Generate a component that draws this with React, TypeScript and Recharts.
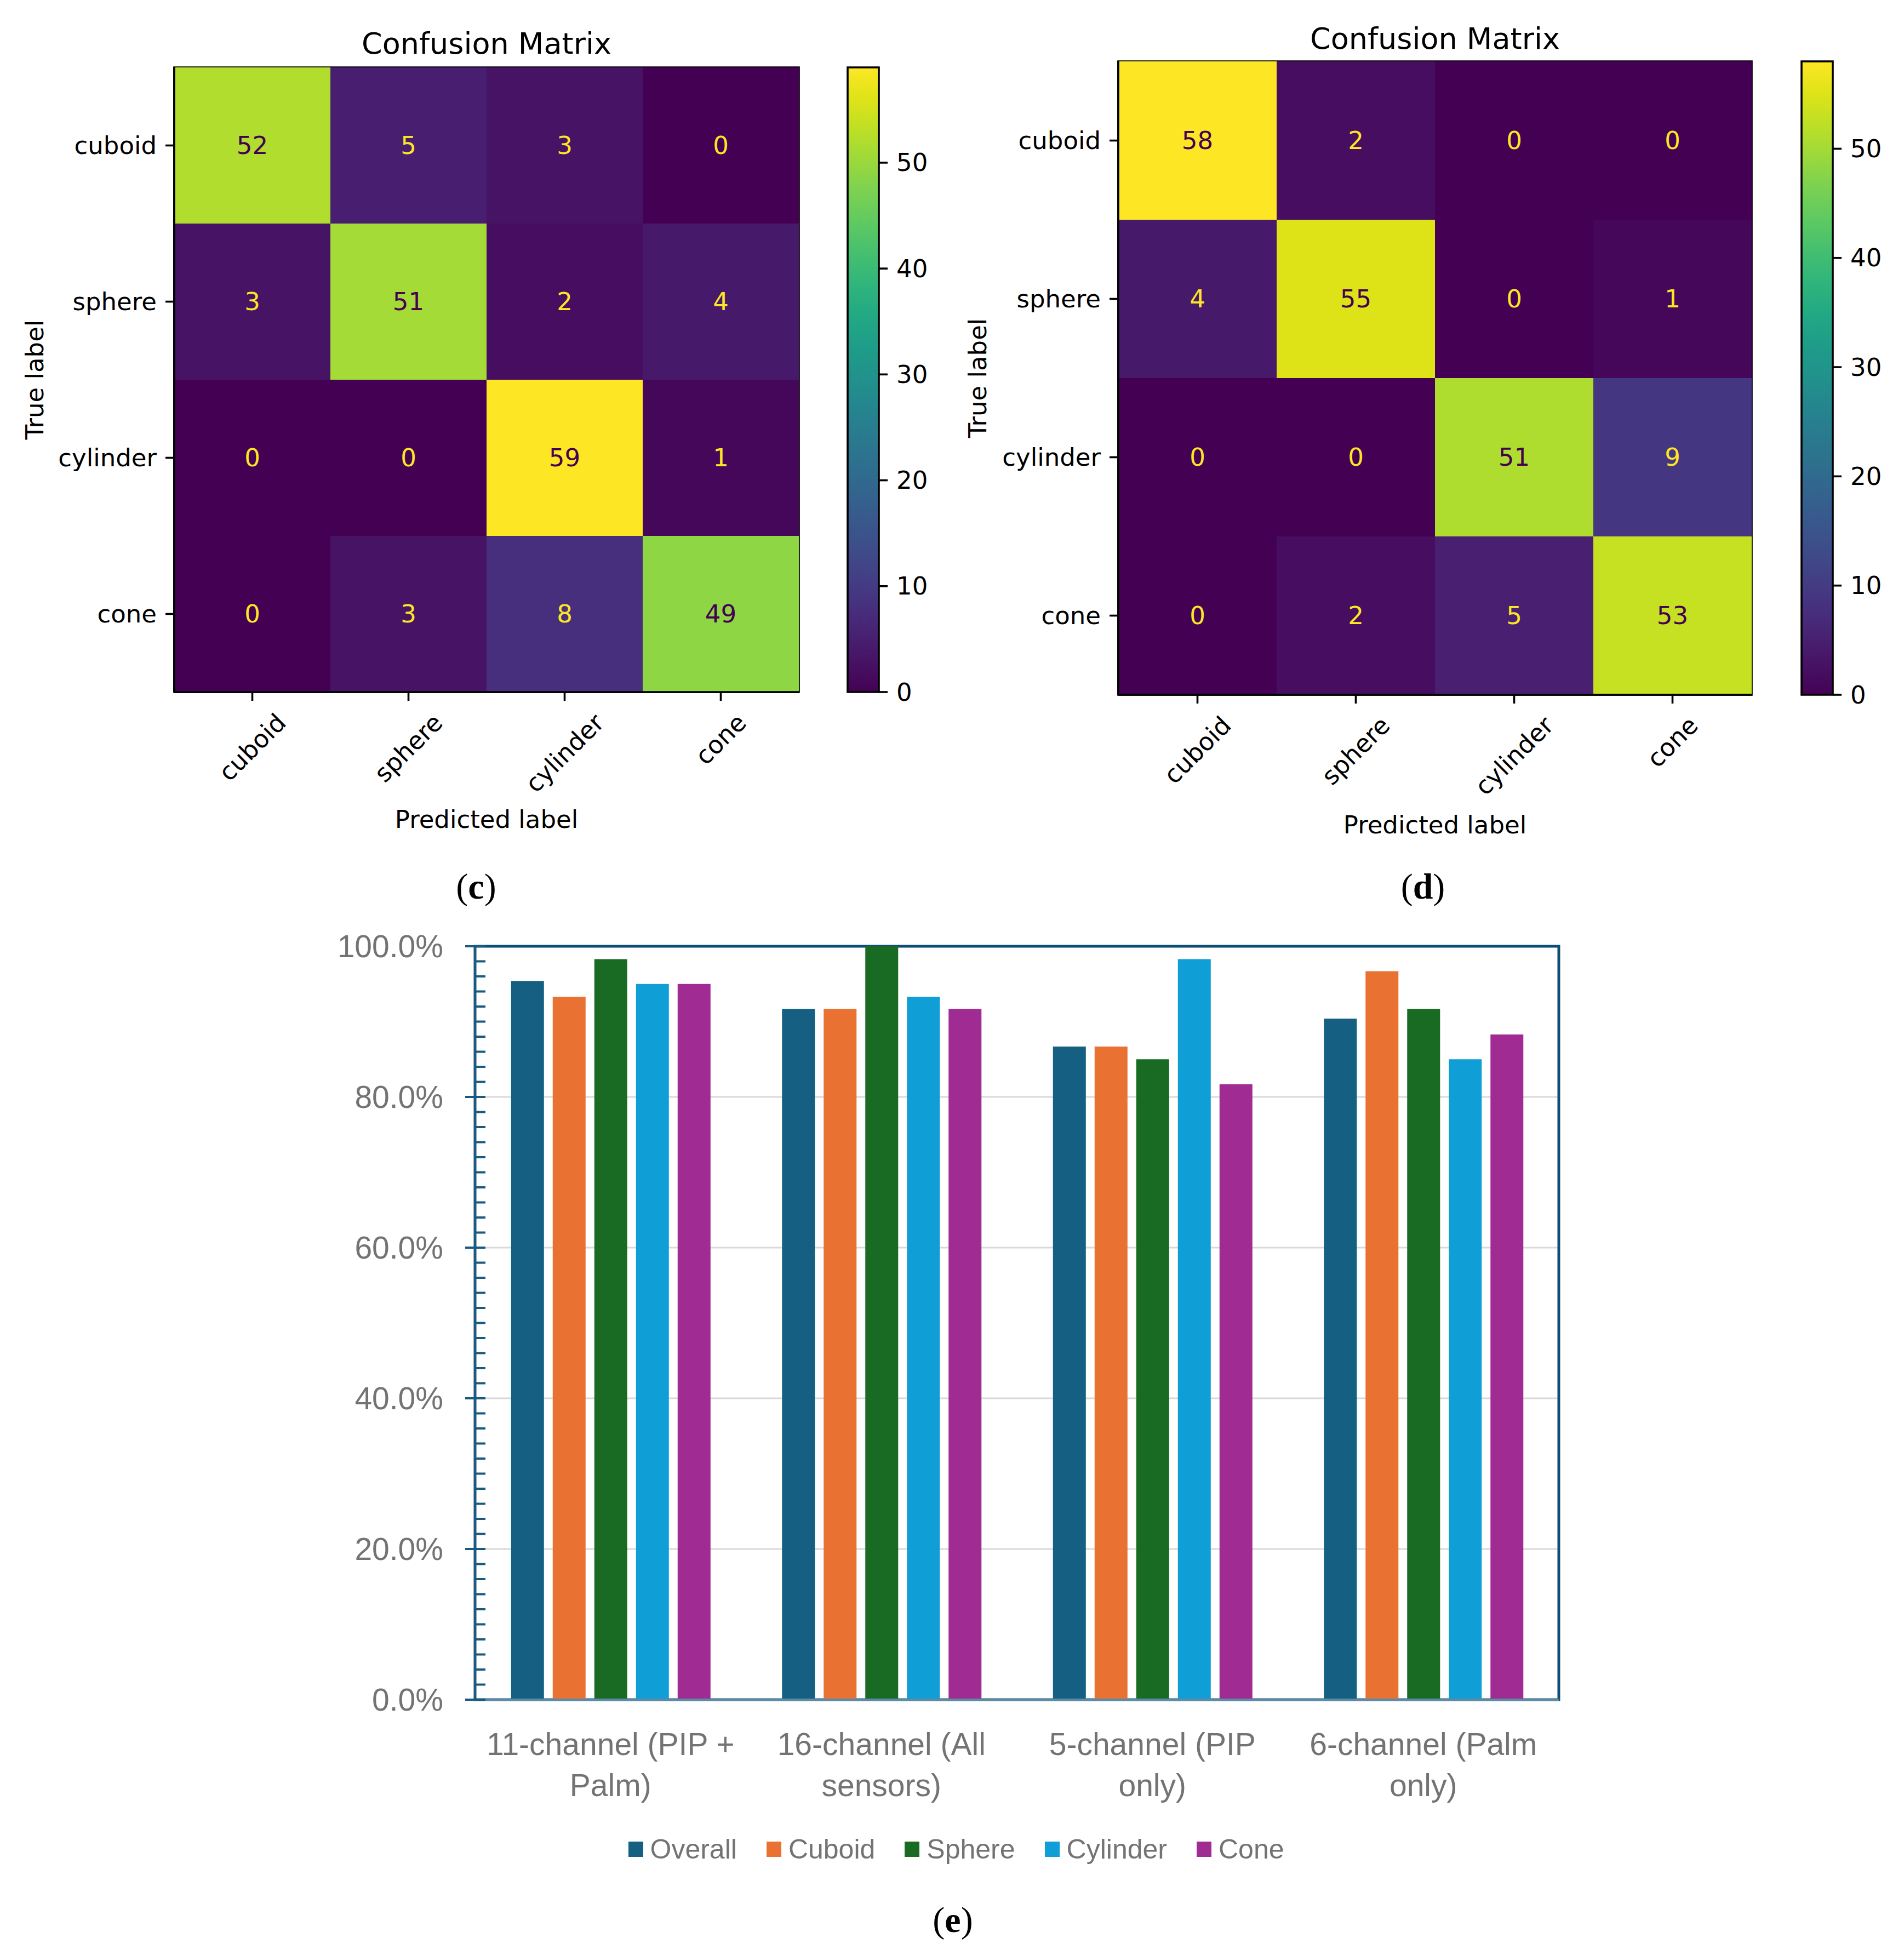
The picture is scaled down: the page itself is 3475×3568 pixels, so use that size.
import React from 'react';
import { BarChart, Bar, XAxis, YAxis, Cell, LabelList, CartesianGrid, Legend, ReferenceArea, ReferenceLine } from 'recharts';

// ---------- confusion matrices (rows = true label, columns = predicted label) ----------
const classLabels = ['cuboid', 'sphere', 'cylinder', 'cone'];
const matrixC = [
  [52, 5, 3, 0],
  [3, 51, 2, 4],
  [0, 0, 59, 1],
  [0, 3, 8, 49],
];
const matrixD = [
  [58, 2, 0, 0],
  [4, 55, 0, 1],
  [0, 0, 51, 9],
  [0, 2, 5, 53],
];
const colorbarTicks = [0, 10, 20, 30, 40, 50];

// ---------- per-configuration accuracy (%) ----------
const configLabels = [
  '11-channel (PIP + Palm)',
  '16-channel (All sensors)',
  '5-channel (PIP only)',
  '6-channel (Palm only)',
];
const configTickLines = [
  ['11-channel (PIP +', 'Palm)'],
  ['16-channel (All', 'sensors)'],
  ['5-channel (PIP', 'only)'],
  ['6-channel (Palm', 'only)'],
];
const overallAcc = [95.4, 91.7, 86.7, 90.4];
const cuboidAcc = [93.3, 91.7, 86.7, 96.7];
const sphereAcc = [98.3, 100.0, 85.0, 91.7];
const cylinderAcc = [95.0, 93.3, 98.3, 85.0];
const coneAcc = [95.0, 91.7, 81.7, 88.3];
const percentTicks = [0, 20, 40, 60, 80, 100];
const percentMinorStep = 2;

const accSeries = [
  { key: 'overall', name: 'Overall', color: '#156082', values: overallAcc },
  { key: 'cuboid', name: 'Cuboid', color: '#e97132', values: cuboidAcc },
  { key: 'sphere', name: 'Sphere', color: '#196b24', values: sphereAcc },
  { key: 'cylinder', name: 'Cylinder', color: '#0f9ed5', values: cylinderAcc },
  { key: 'cone', name: 'Cone', color: '#a02b93', values: coneAcc },
];

// ---------- styling ----------
const MPL_FONT = '"DejaVu Sans", sans-serif';
const MPL_FS = 45;
const MPL_LW = 3.6;
const OFFICE_FONT = '"Liberation Sans", Arial, sans-serif';
const OFFICE_GRAY = '#737373';
const AXIS_BLUE = '#1b5a80';
const BORDER_BLUE = '#0f4e74';
const BASE_LINE = '#5d8aa5';

// viridis colormap sampled every 0.05
const VIRIDIS = [
  '#440154', '#471365', '#482475', '#463480', '#414487', '#3b528b', '#355f8d',
  '#2f6c8e', '#2a788e', '#25848e', '#21918c', '#1e9c89', '#22a884', '#2fb47c',
  '#44bf70', '#5ec962', '#7ad151', '#9bd93c', '#bddf26', '#dfe318', '#fde725',
];

function hexRgb(h: string): number[] {
  return [parseInt(h.slice(1, 3), 16), parseInt(h.slice(3, 5), 16), parseInt(h.slice(5, 7), 16)];
}

function viridis(t: number): string {
  const c = Math.max(0, Math.min(1, t));
  const p = c * (VIRIDIS.length - 1);
  const i = Math.min(Math.floor(p), VIRIDIS.length - 2);
  const f = p - i;
  const a = hexRgb(VIRIDIS[i]);
  const b = hexRgb(VIRIDIS[i + 1]);
  const m = a.map((v, k) => Math.round(v + (b[k] - v) * f));
  return `rgb(${m[0]},${m[1]},${m[2]})`;
}

let measureCtx: CanvasRenderingContext2D | null = null;
function textWidth(s: string, font: string): number {
  if (!measureCtx) measureCtx = document.createElement('canvas').getContext('2d');
  if (!measureCtx) return s.length * 0.6 * MPL_FS;
  measureCtx.font = font;
  return measureCtx.measureText(s).width;
}

// ---------- confusion-matrix ticks & labels ----------
const renderRotatedTick = (p: any) => {
  const label = String(p.payload.value);
  const w = textWidth(label, `${MPL_FS}px ${MPL_FONT}`);
  const cy = p.y + ((w + MPL_FS) * Math.SQRT1_2) / 2;
  return (
    <text
      x={p.x}
      y={cy}
      textAnchor="middle"
      dominantBaseline="central"
      transform={`rotate(-45 ${p.x} ${cy})`}
      fontSize={MPL_FS}
      fontFamily={MPL_FONT}
      fill="#000"
    >
      {label}
    </text>
  );
};

const renderRowTick = (p: any) => (
  <text x={p.x} y={p.y} textAnchor="end" dominantBaseline="central" fontSize={MPL_FS} fontFamily={MPL_FONT} fill="#000">
    {classLabels[classLabels.length - 1 - Math.floor(p.payload.value)]}
  </text>
);

const renderCbTick = (p: any) => (
  <text x={p.x} y={p.y} textAnchor="start" dominantBaseline="central" fontSize={MPL_FS} fontFamily={MPL_FONT} fill="#000">
    {p.payload.value}
  </text>
);

function renderCount(p: any, thresh: number) {
  const vb = p.viewBox || p;
  const x = (vb.x ?? p.x) + (vb.width ?? p.width) / 2;
  const y = (vb.y ?? p.y) + (vb.height ?? p.height) / 2;
  const v = Number(p.value);
  return (
    <text
      x={x}
      y={y}
      textAnchor="middle"
      dominantBaseline="central"
      fontSize={MPL_FS}
      fontFamily={MPL_FONT}
      fill={v < thresh ? '#fde725' : '#440154'}
    >
      {v}
    </text>
  );
}

function ConfusionMatrix({ matrix, plotX, plotY, size }: { matrix: number[][]; plotX: number; plotY: number; size: number }) {
  const flat = matrix.flat();
  const vmax = Math.max(...flat);
  const vmin = Math.min(...flat);
  const thresh = (vmax + vmin) / 2;
  const n = classLabels.length;
  const data = classLabels.map((pred, j) => {
    const col: any = { pred };
    classLabels.forEach((_, i) => {
      col[`u${i}`] = 1;
      col[`n${i}`] = matrix[i][j];
    });
    return col;
  });
  const yAxisW = 300;
  const padT = 20;
  const padR = 20;
  const xAxisH = 200;
  const padB = 50;
  const rowOrder = classLabels.map((_, i) => n - 1 - i);
  const line = { stroke: '#000', strokeWidth: MPL_LW };
  return (
    <div style={{ position: 'absolute', left: plotX - yAxisW, top: plotY - padT }}>
      <BarChart
        width={yAxisW + size + padR}
        height={padT + size + xAxisH + padB}
        data={data}
        margin={{ top: padT, right: padR, bottom: padB, left: 0 }}
        barCategoryGap={0}
        barGap={0}
      >
        {rowOrder.map((i) => (
          <Bar key={i} dataKey={`u${i}`} stackId="cm" isAnimationActive={false}>
            {data.map((_, j) => (
              <Cell key={j} fill={viridis((matrix[i][j] - vmin) / (vmax - vmin))} />
            ))}
            <LabelList dataKey={`n${i}`} content={(p: any) => renderCount(p, thresh)} />
          </Bar>
        ))}
        <XAxis
          dataKey="pred"
          type="category"
          height={xAxisH}
          interval={0}
          tickSize={16}
          tickMargin={16}
          axisLine={line}
          tickLine={line}
          tick={renderRotatedTick}
        />
        <YAxis
          type="number"
          domain={[0, n]}
          ticks={classLabels.map((_, k) => k + 0.5)}
          interval={0}
          allowDataOverflow
          width={yAxisW}
          tickSize={16}
          tickMargin={16}
          axisLine={line}
          tickLine={line}
          tick={renderRowTick}
        />
        {/* axes frame */}
        <ReferenceArea y1={0} y2={n} fill="none" stroke="#000" strokeWidth={MPL_LW} ifOverflow="visible" />
      </BarChart>
    </div>
  );
}

function Colorbar({ matrix, left, top, height, width, id }: { matrix: number[][]; left: number; top: number; height: number; width: number; id: string }) {
  const vmax = Math.max(...matrix.flat());
  const pad = 4;
  const axisW = 140;
  return (
    <div style={{ position: 'absolute', left: left - pad, top: top - pad }}>
      <BarChart
        width={pad + width + axisW}
        height={pad + height + 40}
        data={[{ k: 'scale', v: vmax }]}
        margin={{ top: pad, left: pad, right: 0, bottom: 40 }}
        barCategoryGap={0}
      >
        <defs>
          <linearGradient id={id} x1="0" y1="1" x2="0" y2="0">
            {VIRIDIS.map((c, k) => (
              <stop key={k} offset={k / (VIRIDIS.length - 1)} stopColor={c} />
            ))}
          </linearGradient>
        </defs>
        <Bar dataKey="v" fill={`url(#${id})`} stroke="#000" strokeWidth={MPL_LW} isAnimationActive={false} />
        <XAxis dataKey="k" hide />
        <YAxis
          orientation="right"
          type="number"
          domain={[0, vmax]}
          ticks={colorbarTicks}
          interval={0}
          width={axisW}
          tickSize={16}
          tickMargin={16}
          axisLine={false}
          tickLine={{ stroke: '#000', strokeWidth: MPL_LW }}
          tick={renderCbTick}
        />
      </BarChart>
    </div>
  );
}

// ---------- accuracy bar chart ----------
const PCT_MARGIN = 58;

const renderPctTick = (p: any) => {
  const v = Number(p.payload.value);
  const ax = p.x + PCT_MARGIN;
  const major = percentTicks.includes(v);
  return (
    <g>
      <line x1={major ? ax - 18 : ax} x2={ax + 19} y1={p.y} y2={p.y} stroke={AXIS_BLUE} strokeWidth={4} />
      {major && (
        <text x={p.x} y={p.y} textAnchor="end" dominantBaseline="central" fontSize={57} fontFamily={OFFICE_FONT} fill={OFFICE_GRAY}>
          {`${v.toFixed(1)}%`}
        </text>
      )}
    </g>
  );
};

const renderConfigTick = (p: any) => {
  const idx = configLabels.indexOf(p.payload.value);
  const lines = configTickLines[idx] || [String(p.payload.value)];
  return (
    <text x={p.x} y={p.y} textAnchor="middle" fontSize={57} fontFamily={OFFICE_FONT} fill={OFFICE_GRAY}>
      {lines.map((l, k) => (
        <tspan key={k} x={p.x} dy={k === 0 ? 101 : 75}>
          {l}
        </tspan>
      ))}
    </text>
  );
};

const renderAccLegend = (props: any) => {
  const order = accSeries.map((s) => s.name);
  const items = [...(props.payload || [])].sort(
    (a: any, b: any) => order.indexOf(String(a.value)) - order.indexOf(String(b.value)),
  );
  return (
    <div
      style={{
        display: 'flex',
        justifyContent: 'center',
        alignItems: 'center',
        height: 40,
        fontFamily: OFFICE_FONT,
        fontSize: 50,
        color: OFFICE_GRAY,
      }}
    >
      {items.map((it: any, i: number) => (
        <div key={i} style={{ display: 'flex', alignItems: 'center', marginRight: i < items.length - 1 ? 54 : 0 }}>
          <span style={{ display: 'inline-block', width: 27, height: 28, background: it.color, marginRight: 13 }} />
          <span style={{ lineHeight: '40px', whiteSpace: 'nowrap' }}>{it.value}</span>
        </div>
      ))}
    </div>
  );
};

function AccuracyChart() {
  const data = configLabels.map((name, i) => {
    const row: any = { name };
    accSeries.forEach((s) => {
      row[s.key] = s.values[i];
    });
    return row;
  });
  const axisTicks: number[] = [];
  for (let v = 0; v <= 100; v += percentMinorStep) axisTicks.push(v);
  return (
    <div style={{ position: 'absolute', left: 600, top: 1640 }}>
      <BarChart
        width={2400}
        height={1800}
        data={data}
        margin={{ top: 87, right: 155, bottom: 138, left: 67 }}
        barCategoryGap="13.3%"
        barGap={16}
      >
        <CartesianGrid vertical={false} horizontalValues={percentTicks} stroke="#d9d9d9" strokeWidth={3} />
        {accSeries.map((s) => (
          <Bar key={s.key} dataKey={s.key} name={s.name} fill={s.color} isAnimationActive={false} />
        ))}
        <XAxis
          dataKey="name"
          type="category"
          height={200}
          interval={0}
          tickSize={0}
          tickMargin={0}
          tickLine={false}
          axisLine={{ stroke: BASE_LINE, strokeWidth: 4 }}
          tick={renderConfigTick}
        />
        <YAxis
          type="number"
          domain={[0, 100]}
          ticks={axisTicks}
          interval={0}
          allowDataOverflow
          width={200}
          tickSize={0}
          tickMargin={PCT_MARGIN}
          tickLine={false}
          axisLine={{ stroke: AXIS_BLUE, strokeWidth: 4 }}
          tick={renderPctTick}
        />
        {/* plot-area frame: dark top/right edges, lighter base line */}
        <ReferenceArea y1={0} y2={100} fill="none" stroke={BORDER_BLUE} strokeWidth={5} ifOverflow="visible" />
        <ReferenceLine y={0} stroke={BASE_LINE} strokeWidth={4} ifOverflow="visible" />
        <Legend
          layout="horizontal"
          verticalAlign="middle"
          align="center"
          wrapperStyle={{ top: 1715, left: 0, width: 2290 }}
          content={renderAccLegend}
        />
      </BarChart>
    </div>
  );
}

// ---------- page ----------
const PANEL_C = { x: 318, y: 123, size: 1140, cbX: 1547 };
const PANEL_D = { x: 2041, y: 112, size: 1156, cbX: 3288 };
const CB_W = 57;

function PanelLetter({ x, y, letter }: { x: number; y: number; letter: string }) {
  return (
    <text x={x} y={y} textAnchor="middle" fontSize={66} fontFamily='"Liberation Serif", "DejaVu Serif", serif' fill="#000">
      (<tspan fontWeight="bold">{letter}</tspan>)
    </text>
  );
}

export default function App() {
  const cC = PANEL_C.x + PANEL_C.size / 2;
  const cD = PANEL_D.x + PANEL_D.size / 2;
  return (
    <div style={{ position: 'absolute', left: 0, top: 0, width: 3475, height: 3568, background: '#fff', overflow: 'hidden' }}>
      <ConfusionMatrix matrix={matrixC} plotX={PANEL_C.x} plotY={PANEL_C.y} size={PANEL_C.size} />
      <Colorbar matrix={matrixC} left={PANEL_C.cbX} top={PANEL_C.y} height={PANEL_C.size} width={CB_W} id="viridis-c" />
      <ConfusionMatrix matrix={matrixD} plotX={PANEL_D.x} plotY={PANEL_D.y} size={PANEL_D.size} />
      <Colorbar matrix={matrixD} left={PANEL_D.cbX} top={PANEL_D.y} height={PANEL_D.size} width={CB_W} id="viridis-d" />
      <AccuracyChart />
      <svg width={3475} height={3568} style={{ position: 'absolute', left: 0, top: 0, pointerEvents: 'none' }}>
        <g fontFamily={MPL_FONT} fill="#000">
          <text x={cC} y={98} textAnchor="middle" fontSize={54}>Confusion Matrix</text>
          <text x={cD} y={89} textAnchor="middle" fontSize={54}>Confusion Matrix</text>
          <text transform={`translate(79 ${PANEL_C.y + PANEL_C.size / 2}) rotate(-90)`} textAnchor="middle" fontSize={MPL_FS}>True label</text>
          <text transform={`translate(1800 ${PANEL_D.y + PANEL_D.size / 2}) rotate(-90)`} textAnchor="middle" fontSize={MPL_FS}>True label</text>
          <text x={cC} y={1511} textAnchor="middle" fontSize={MPL_FS}>Predicted label</text>
          <text x={cD} y={1521} textAnchor="middle" fontSize={MPL_FS}>Predicted label</text>
        </g>
        <PanelLetter x={869} y={1640} letter="c" />
        <PanelLetter x={2597} y={1640} letter="d" />
        <PanelLetter x={1739} y={3526} letter="e" />
      </svg>
    </div>
  );
}
